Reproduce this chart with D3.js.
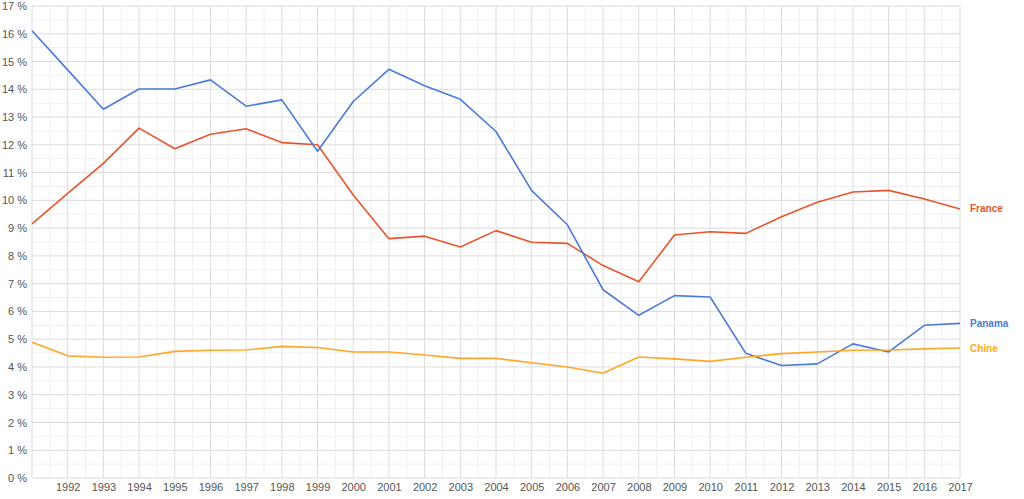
<!DOCTYPE html>
<html><head><meta charset="utf-8">
<script src="https://cdn.jsdelivr.net/npm/d3@7"></script>
<style>body{margin:0;background:#fff;}svg{display:block;font-family:"Liberation Sans",Arial,sans-serif;}</style>
</head><body>
<svg id="c" width="1024" height="499"></svg>
<script>
const years = d3.range(1991, 2018);
const france = [9.15,10.25,11.33,12.60,11.86,12.38,12.58,12.08,12.00,10.19,8.62,8.71,8.32,8.91,8.49,8.45,7.65,7.07,8.75,8.87,8.81,9.41,9.93,10.30,10.36,10.05,9.69];
const panama = [16.11,14.70,13.28,14.01,14.01,14.34,13.39,13.62,11.77,13.56,14.72,14.13,13.64,12.48,10.35,9.12,6.78,5.86,6.57,6.52,4.49,4.05,4.11,4.83,4.54,5.50,5.57];
const chine = [4.89,4.40,4.35,4.36,4.56,4.60,4.61,4.74,4.70,4.54,4.54,4.43,4.31,4.31,4.15,4.00,3.77,4.36,4.29,4.20,4.35,4.48,4.54,4.60,4.61,4.65,4.68];
const yTicks = d3.range(0, 18);
const xTickYears = d3.range(1992, 2018);
const seriesNames = ["France", "Panama", "Chine"];
const seriesColors = ["#e8552c", "#4a7bd9", "#ffa726"];
const seriesData = [france, panama, chine];

const svg = d3.select("#c");
const x = d3.scaleLinear().domain([1991, 2017]).range([32, 960]);
const y = d3.scaleLinear().domain([0, 17]).range([478, 6]);

// minor grid
const g = svg.append("g");
g.selectAll(".vmin").data(d3.range(1991.5, 2017, 1)).enter().append("line")
  .attr("x1", d => x(d)).attr("x2", d => x(d)).attr("y1", y(17)).attr("y2", y(0))
  .attr("stroke", "#f0f0f0").attr("stroke-width", 1);
g.selectAll(".hmin").data(d3.range(0.5, 17, 1)).enter().append("line")
  .attr("x1", x(1991)).attr("x2", x(2017)).attr("y1", d => y(d)).attr("y2", d => y(d))
  .attr("stroke", "#f0f0f0").attr("stroke-width", 1);
// major grid
g.selectAll(".vmaj").data(years).enter().append("line")
  .attr("x1", d => x(d)).attr("x2", d => x(d)).attr("y1", y(17)).attr("y2", y(0))
  .attr("stroke", "#dcdcdc").attr("stroke-width", 1);
g.selectAll(".hmaj").data(yTicks).enter().append("line")
  .attr("x1", x(1991)).attr("x2", x(2017)).attr("y1", d => y(d)).attr("y2", d => y(d))
  .attr("stroke", "#dcdcdc").attr("stroke-width", 1);

// axes labels
const yAxis = d3.axisLeft(y).tickValues(yTicks).tickSize(0).tickPadding(5).tickFormat(d => d + " %");
const ya = svg.append("g").attr("transform", `translate(${x(1991)},0)`).call(yAxis);
ya.select(".domain").remove();
ya.selectAll("text").attr("fill", "#555").style("font-size", "11px");

const xAxis = d3.axisBottom(x).tickValues(xTickYears).tickSize(0).tickPadding(5).tickFormat(d3.format("d"));
const xa = svg.append("g").attr("transform", `translate(0,${y(0)})`).call(xAxis);
xa.select(".domain").remove();
xa.selectAll("text").attr("fill", "#555").style("font-size", "11px");

// lines
const line = d3.line().x((d, i) => x(years[i])).y(d => y(d));
seriesData.forEach((s, k) => {
  svg.append("path").datum(s).attr("d", line).attr("fill", "none")
    .attr("stroke", seriesColors[k]).attr("stroke-width", 1.6).attr("stroke-linejoin", "round");
  svg.append("text").attr("x", x(2017) + 10).attr("y", y(s[s.length - 1])).attr("dy", "0.35em")
    .attr("fill", seriesColors[k]).style("font-size", "10px").style("font-weight", "bold")
    .text(seriesNames[k]);
});
</script>
</body></html>
